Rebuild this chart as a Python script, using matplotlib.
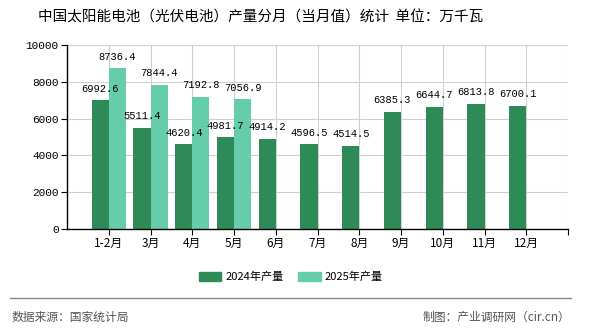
import numpy as np
import matplotlib
matplotlib.use("Agg")
import matplotlib.pyplot as plt
from matplotlib.patches import Patch

plt.rcParams['font.family'] = ['Noto Sans CJK SC', 'DejaVu Sans']

# -------------------------------------------------
# DATA
# -------------------------------------------------
months = ["1-2月", "3月", "4月", "5月", "6月", "7月", "8月", "9月", "10月", "11月", "12月"]
prod_2024 = [6992.6, 5511.4, 4620.4, 4981.7, 4914.2, 4596.5, 4514.5, 6385.3, 6644.7, 6813.8, 6700.1]
prod_2025 = [8736.4, 7844.4, 7192.8, 7056.9]

C_2024 = "#2E8B57"
C_2025 = "#66CDAA"

fig = plt.figure(figsize=(5.9, 3.3), dpi=100)
ax = fig.add_axes([67 / 590, 1 - 229 / 330, 501 / 590, 184 / 330])

x = np.arange(len(months))
w = 0.41
ax.bar(x - w / 2, prod_2024, width=w, color=C_2024, zorder=2)
ax.bar(x[:len(prod_2025)] + w / 2, prod_2025, width=w, color=C_2025, zorder=2)

lab_font = dict(fontsize=7.5, family=['Liberation Mono', 'DejaVu Sans Mono'], ha="center", va="bottom")
for xi, v in zip(x, prod_2024):
    ax.text(xi - w / 2, v + 350, f"{v:.1f}", **lab_font, zorder=3)
for xi, v in zip(x, prod_2025):
    ax.text(xi + w / 2, v + 350, f"{v:.1f}", **lab_font, zorder=3)

ax.set_xlim(-1, len(months))
ax.set_ylim(0, 10000)
ax.set_yticks(range(0, 10001, 2000))
ax.set_xticks(list(x) + [len(months)])
ax.set_xticklabels(months + [""])
ax.tick_params(axis="x", length=4, labelsize=8.5, pad=2)
ax.tick_params(axis="y", length=4, labelsize=8, pad=2)
for lbl in ax.get_yticklabels():
    lbl.set_family(['Liberation Mono', 'DejaVu Sans Mono'])

ax.grid(True, color="#d0d0d0", linewidth=0.8, zorder=0)
ax.set_axisbelow(True)
ax.spines["top"].set_visible(False)
ax.spines["right"].set_visible(False)
ax.spines["left"].set_linewidth(1.0)
ax.spines["bottom"].set_linewidth(1.0)

fig.text(261 / 590, 1 - 17 / 330, "中国太阳能电池（光伏电池）产量分月（当月值）统计  单位：万千瓦",
         ha="center", va="center", fontsize=10.5)

handles = [Patch(color=C_2024, label="2024年产量"), Patch(color=C_2025, label="2025年产量")]
fig.legend(handles=handles, loc="center", bbox_to_anchor=(291 / 590, 1 - 277 / 330), ncol=2,
           frameon=False, fontsize=8, handlelength=2.0, handleheight=0.9,
           handletextpad=0.4, columnspacing=1.3)

fig.add_artist(plt.Line2D([10 / 590, 571 / 590], [1 - 298 / 330, 1 - 298 / 330],
                          color="#888888", linewidth=1.0))
fig.text(12 / 590, 1 - 317 / 330, "数据来源：国家统计局", ha="left", va="center",
         fontsize=8.5, color="#555555")
fig.text(570 / 590, 1 - 317 / 330, "制图：产业调研网（cir.cn）", ha="right", va="center",
         fontsize=8.5, color="#555555")

fig.savefig("out.png", dpi=100)
